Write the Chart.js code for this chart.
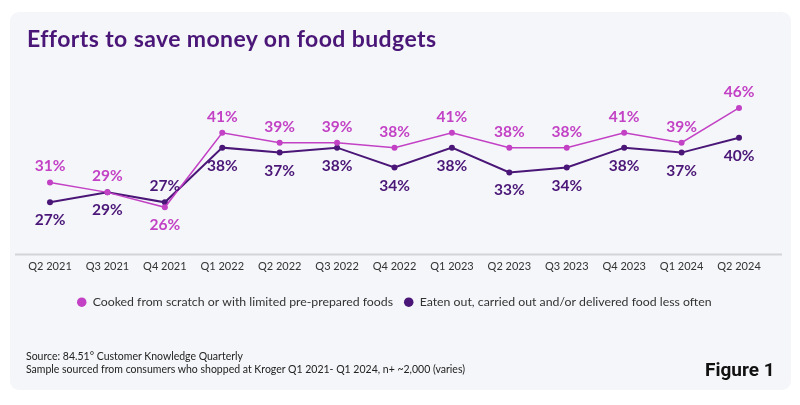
<!DOCTYPE html>
<html>
<head>
<meta charset="utf-8">
<script src="https://cdn.jsdelivr.net/npm/chart.js@4"></script>
<style>
  html, body { margin: 0; padding: 0; background: #ffffff; }
  #wrap { position: relative; width: 800px; height: 405px; overflow: hidden; }
  #card { position: absolute; left: 10px; top: 12px; width: 781px; height: 378px; background: #f5f6f9; border-radius: 9px; }
  #chart { position: absolute; left: 0; top: 0; }
  .title { position: absolute; left: 27px; top: 24px; font: bold 23px Lato, sans-serif; letter-spacing: 0.4px; color: #4a1677; white-space: nowrap; }
  .src { position: absolute; left: 26px; font: 10.5px Lato, sans-serif; color: #222; white-space: nowrap; }
  .fig { position: absolute; left: 705px; top: 358px; font: bold 19px Roboto, sans-serif; color: #111; white-space: nowrap; }
</style>
</head>
<body>
<div id="wrap">
  <div id="card"></div>
  <canvas id="chart" width="800" height="405"></canvas>
  <div class="title">Efforts to save money on food budgets</div>
  <div class="src" style="top:350px">Source: 84.51° Customer Knowledge Quarterly</div>
  <div class="src" style="top:363px">Sample sourced from consumers who shopped at Kroger Q1 2021- Q1 2024, n+ ~2,000 (varies)</div>
  <div class="fig">Figure 1</div>
</div>
<script>
const quarters = ['Q2 2021', 'Q3 2021', 'Q4 2021', 'Q1 2022', 'Q2 2022', 'Q3 2022', 'Q4 2022',
                  'Q1 2023', 'Q2 2023', 'Q3 2023', 'Q4 2023', 'Q1 2024', 'Q2 2024'];
const cooked = [31, 29, 26, 41, 39, 39, 38, 41, 38, 38, 41, 39, 46];
const eatenOut = [27, 29, 27, 38, 37, 38, 34, 38, 33, 34, 38, 37, 40];
const seriesNames = ['Cooked from scratch or with limited pre-prepared foods',
                     'Eaten out, carried out and/or delivered food less often'];

const PINK = '#c241c5';
const PURPLE = '#4a1677';

// label goes under the point for these indexes (otherwise pink above, purple below)
const flipAt = [2];

const valueLabels = {
  id: 'valueLabels',
  afterDatasetsDraw(chart) {
    const ctx = chart.ctx;
    ctx.save();
    ctx.font = 'bold 15.5px Lato, sans-serif';
    ctx.textAlign = 'center';
    ctx.textBaseline = 'middle';
    chart.data.datasets.forEach((ds, di) => {
      const meta = chart.getDatasetMeta(di);
      ctx.fillStyle = ds.borderColor;
      meta.data.forEach((pt, i) => {
        let above = di === 0;
        if (flipAt.includes(i)) above = !above;
        const y = above ? pt.y - 16 : pt.y + 18;
        ctx.fillText(ds.data[i] + '%', pt.x, y);
      });
    });
    ctx.restore();
  }
};

const baseLine = {
  id: 'baseLine',
  beforeDatasetsDraw(chart) {
    const ctx = chart.ctx;
    const y = chart.chartArea.bottom;
    ctx.save();
    ctx.strokeStyle = '#d3d4da';
    ctx.lineWidth = 2;
    ctx.beginPath();
    ctx.moveTo(15, y);
    ctx.lineTo(782, y);
    ctx.stroke();
    ctx.restore();
  }
};

const legendPlace = {
  id: 'legendPlace',
  afterLayout(chart) {
    const lg = chart.legend;
    const h = lg.bottom - lg.top;
    lg.left = 66;
    lg.top = 285;
    lg.bottom = 285 + h;
  }
};

new Chart(document.getElementById('chart'), {
  type: 'line',
  data: {
    labels: quarters,
    datasets: [
      { label: seriesNames[0], data: cooked, borderColor: PINK, backgroundColor: PINK,
        borderWidth: 1.5, pointRadius: 3, pointBackgroundColor: PINK, pointBorderWidth: 0, pointStyle: 'circle' },
      { label: seriesNames[1], data: eatenOut, borderColor: PURPLE, backgroundColor: PURPLE,
        borderWidth: 2, pointRadius: 3, pointBackgroundColor: PURPLE, pointBorderWidth: 0, pointStyle: 'circle' }
    ]
  },
  options: {
    responsive: false,
    animation: false,
    devicePixelRatio: 1,
    layout: { padding: { left: 50, right: 61, top: 88, bottom: 94 } },
    plugins: {
      legend: {
        position: 'bottom',
        align: 'start',
        labels: {
          usePointStyle: true, pointStyle: 'circle', boxHeight: 6.7, pointStyleWidth: 9.5,
          padding: 11, color: '#333', font: { family: 'Lato, sans-serif', size: 12.3 }
        }
      },
      tooltip: { enabled: false }
    },
    scales: {
      x: {
        grid: { display: false, drawTicks: false },
        border: { display: false },
        ticks: { color: '#333', padding: 5, font: { family: 'Lato, sans-serif', size: 11 } }
      },
      y: {
        display: false,
        min: 16.5,
        max: 50
      }
    }
  },
  plugins: [valueLabels, baseLine, legendPlace]
});
</script>
</body>
</html>
